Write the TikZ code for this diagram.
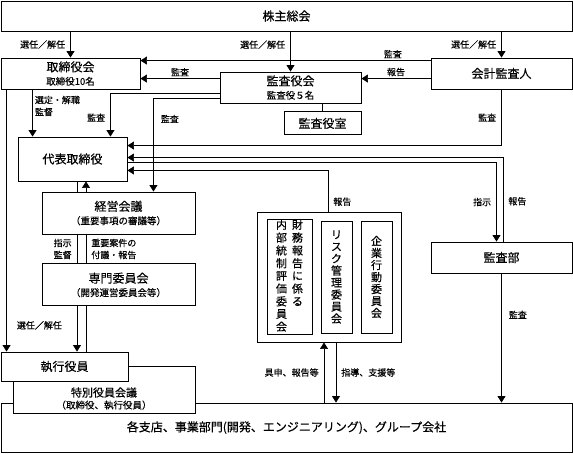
\documentclass[tikz,border=0pt]{standalone}
\usepackage{fontspec}
\setmainfont{Noto Sans CJK JP}[FakeBold=0.35]
\usetikzlibrary{arrows.meta,positioning}
\tikzstyle{conn} = [line width = 0.7pt]
\tikzstyle{arrow} = [conn, -{Triangle[width=8pt,length=6.5pt]}]
\tikzstyle{stdNode} = [shape = rectangle, draw, fill = white, line width = 0.9pt, inner sep = 0pt, align = center, font = \fontsize{12}{13.5}\selectfont]
\tikzstyle{tateNode} = [stdNode, font = \fontsize{11}{12}\selectfont]
\tikzstyle{edgeLabel} = [font = \fontsize{9}{12}\selectfont, inner sep = 2pt]
\newcommand{\subLine}[1]{{\fontsize{9.5}{11}\selectfont #1}}

\begin{document}
\begin{tikzpicture}[x=1pt, y=-1pt]
\useasboundingbox (0,0) rectangle (573,453);
% boxes
\node (kabunushi) [stdNode, minimum width=571pt, minimum height=30pt] at (286.5,16) {株主総会};
\node (torishimari) [stdNode, minimum width=139pt, minimum height=31pt] at (70.5,73.5) {取締役会\\\subLine{取締役10名}};
\node (kansayakukai) [stdNode, minimum width=141pt, minimum height=31pt] at (290.5,87.5) {監査役会\\\subLine{監査役５名}};
\node (kansayakushitsu) [stdNode, minimum width=77pt, minimum height=23pt, below=8pt of kansayakukai.south east, anchor=north east] {監査役室};
\node (kaikei) [stdNode, minimum width=141pt, minimum height=31pt] at (501.5,73.5) {会計監査人};
\node (daihyo) [stdNode, minimum width=109pt, minimum height=44pt] at (72.5,159) {代表取締役};
\node (keiei) [stdNode, minimum width=153pt, minimum height=42pt] at (118.5,213) {経営会議\\\subLine{（重要事項の審議等）}};
\node (senmon) [stdNode, minimum width=153pt, minimum height=42pt, below=29pt of keiei] {専門委員会\\\subLine{（開発運営委員会等）}};
\node (kansabu) [stdNode, minimum width=141pt, minimum height=31pt] at (501.5,257.5) {監査部};
\node (iinkai) [stdNode, minimum width=144pt, minimum height=130pt] at (329,277) {};
\node (naibutousei) [tateNode, minimum width=45pt, minimum height=112pt] at (289.5,277) {\begin{tabular}{@{}c@{\hspace{5pt}}c@{}}内&財\\部&務\\統&報\\制&告\\評&に\\価&係\\委&る\\員&\\会&\end{tabular}};
\node (risuku) [tateNode, minimum width=31pt, minimum height=112pt] at (336.5,277) {リ\\ス\\ク\\管\\理\\委\\員\\会};
\node (kigyou) [tateNode, minimum width=31pt, minimum height=112pt] at (376.5,277) {企\\業\\行\\動\\委\\員\\会};
\node (kakushiten) [stdNode, minimum width=571pt, minimum height=49pt] at (286.5,427.5) {各支店、事業部門(開発、エンジニアリング)、グループ会社};
\node (tokubetsu) [stdNode, minimum width=182pt, minimum height=47pt, label={[align=center, inner sep=0pt, yshift=-9pt]center:{\fontsize{11}{13}\selectfont 特別役員会議\\\subLine{（取締役、執行役員）}}}] at (104,389.5) {};
\node (shikko) [stdNode, minimum width=127pt, minimum height=29pt] at (64.5,366.5) {執行役員};
% 株主総会から
\draw[arrow] (torishimari.north |- kabunushi.south) -- (torishimari.north) node [edgeLabel, midway, left=3pt] {選任／解任};
\draw[arrow] (kansayakukai.north |- kabunushi.south) -- (kansayakukai.north) node [edgeLabel, pos=0.33, left=3pt] {選任／解任};
\draw[arrow] (kaikei.north |- kabunushi.south) -- (kaikei.north) node [edgeLabel, midway, left=3pt] {選任／解任};
% 監査・報告
\draw[arrow] ([yshift=-3pt]kaikei.north west) -- ([yshift=-3pt]kaikei.north west -| torishimari.east) node [edgeLabel, pos=0.13, above] {監査};
\draw[arrow] ([yshift=-7pt]kansayakukai.north west) -- ([yshift=-7pt]kansayakukai.north west -| torishimari.east) node [edgeLabel, midway, above] {監査};
\draw[arrow] ([yshift=-7pt]kansayakukai.north east -| kaikei.west) -- ([yshift=-7pt]kansayakukai.north east) node [edgeLabel, midway, above] {報告};
\draw[conn] (kansayakushitsu.north |- kansayakukai.south) -- (kansayakushitsu.north);
% 取締役会から
\draw[arrow] ([xshift=15pt]daihyo.north west |- torishimari.south) -- ([xshift=15pt]daihyo.north west) node [edgeLabel, pos=0.35, right, align=left] {選定・解職\\監督};
\draw[arrow] ([xshift=6pt]torishimari.south west) -- ([xshift=6pt]shikko.north west) node [edgeLabel, pos=0.9, right=8pt] {選任／解任};
% 監査役会から
\draw[arrow] ([yshift=10pt]kansayakukai.south west) -| ([xshift=-17pt]daihyo.north east) node [edgeLabel, pos=0.78, left=3pt] {監査};
\draw[arrow] ([yshift=5pt]kansayakukai.south west) -| ([xshift=-42pt]keiei.north east) node [edgeLabel, pos=0.61, right=5pt] {監査};
% 代表取締役の右側
\draw[arrow] (kaikei.south) |- ([yshift=-9pt]daihyo.north east) node [edgeLabel, pos=0.25, left=3pt] {監査};
\draw[arrow] ([xshift=1.5pt]kansabu.north) |- ([yshift=-21pt]daihyo.north east) node [edgeLabel, pos=0.24, right=3pt] {報告};
\draw[arrow] ([yshift=-26pt]daihyo.north east) -| ([xshift=-5pt]kansabu.north) node [edgeLabel, pos=0.75, left=3pt] {指示};
\draw[arrow] ([xshift=-1pt]iinkai.north) |- ([yshift=11pt]daihyo.south east) node [edgeLabel, pos=0.12, right=3pt] {報告};
% 代表取締役 - 経営会議 - 専門委員会 - 執行役員
\draw[conn] ([xshift=4.5pt]daihyo.south) -- ([xshift=4.5pt]daihyo.south |- keiei.north);
\draw[conn] ([xshift=4.5pt]daihyo.south |- keiei.south) -- ([xshift=4.5pt]daihyo.south |- senmon.north) node [edgeLabel, midway, left=3pt, align=right] {指示\\監督};
\draw[arrow] ([xshift=4.5pt]daihyo.south |- senmon.south) -- ([xshift=4.5pt]daihyo.south |- shikko.north);
\draw[conn] ([xshift=13.5pt]daihyo.south |- shikko.north) -- ([xshift=13.5pt]daihyo.south |- senmon.south);
\draw[conn] ([xshift=13.5pt]daihyo.south |- senmon.north) -- ([xshift=13.5pt]daihyo.south |- keiei.south) node [edgeLabel, midway, right=3pt, align=left] {重要案件の\\付議・報告};
\draw[arrow] ([xshift=13.5pt]daihyo.south |- keiei.north) -- ([xshift=13.5pt]daihyo.south);
% 委員会・監査部から各支店へ
\draw[arrow] ([xshift=-5pt]iinkai.south |- kakushiten.north) -- ([xshift=-5pt]iinkai.south) node [edgeLabel, midway, left=3pt] {具申、報告等};
\draw[arrow] ([xshift=7pt]iinkai.south) -- ([xshift=7pt]iinkai.south |- kakushiten.north) node [edgeLabel, midway, right=3pt] {指導、支援等};
\draw[arrow] (kansabu.south) -- (kansabu.south |- kakushiten.north) node [edgeLabel, pos=0.32, right=5pt] {監査};
\end{tikzpicture}
\end{document}
